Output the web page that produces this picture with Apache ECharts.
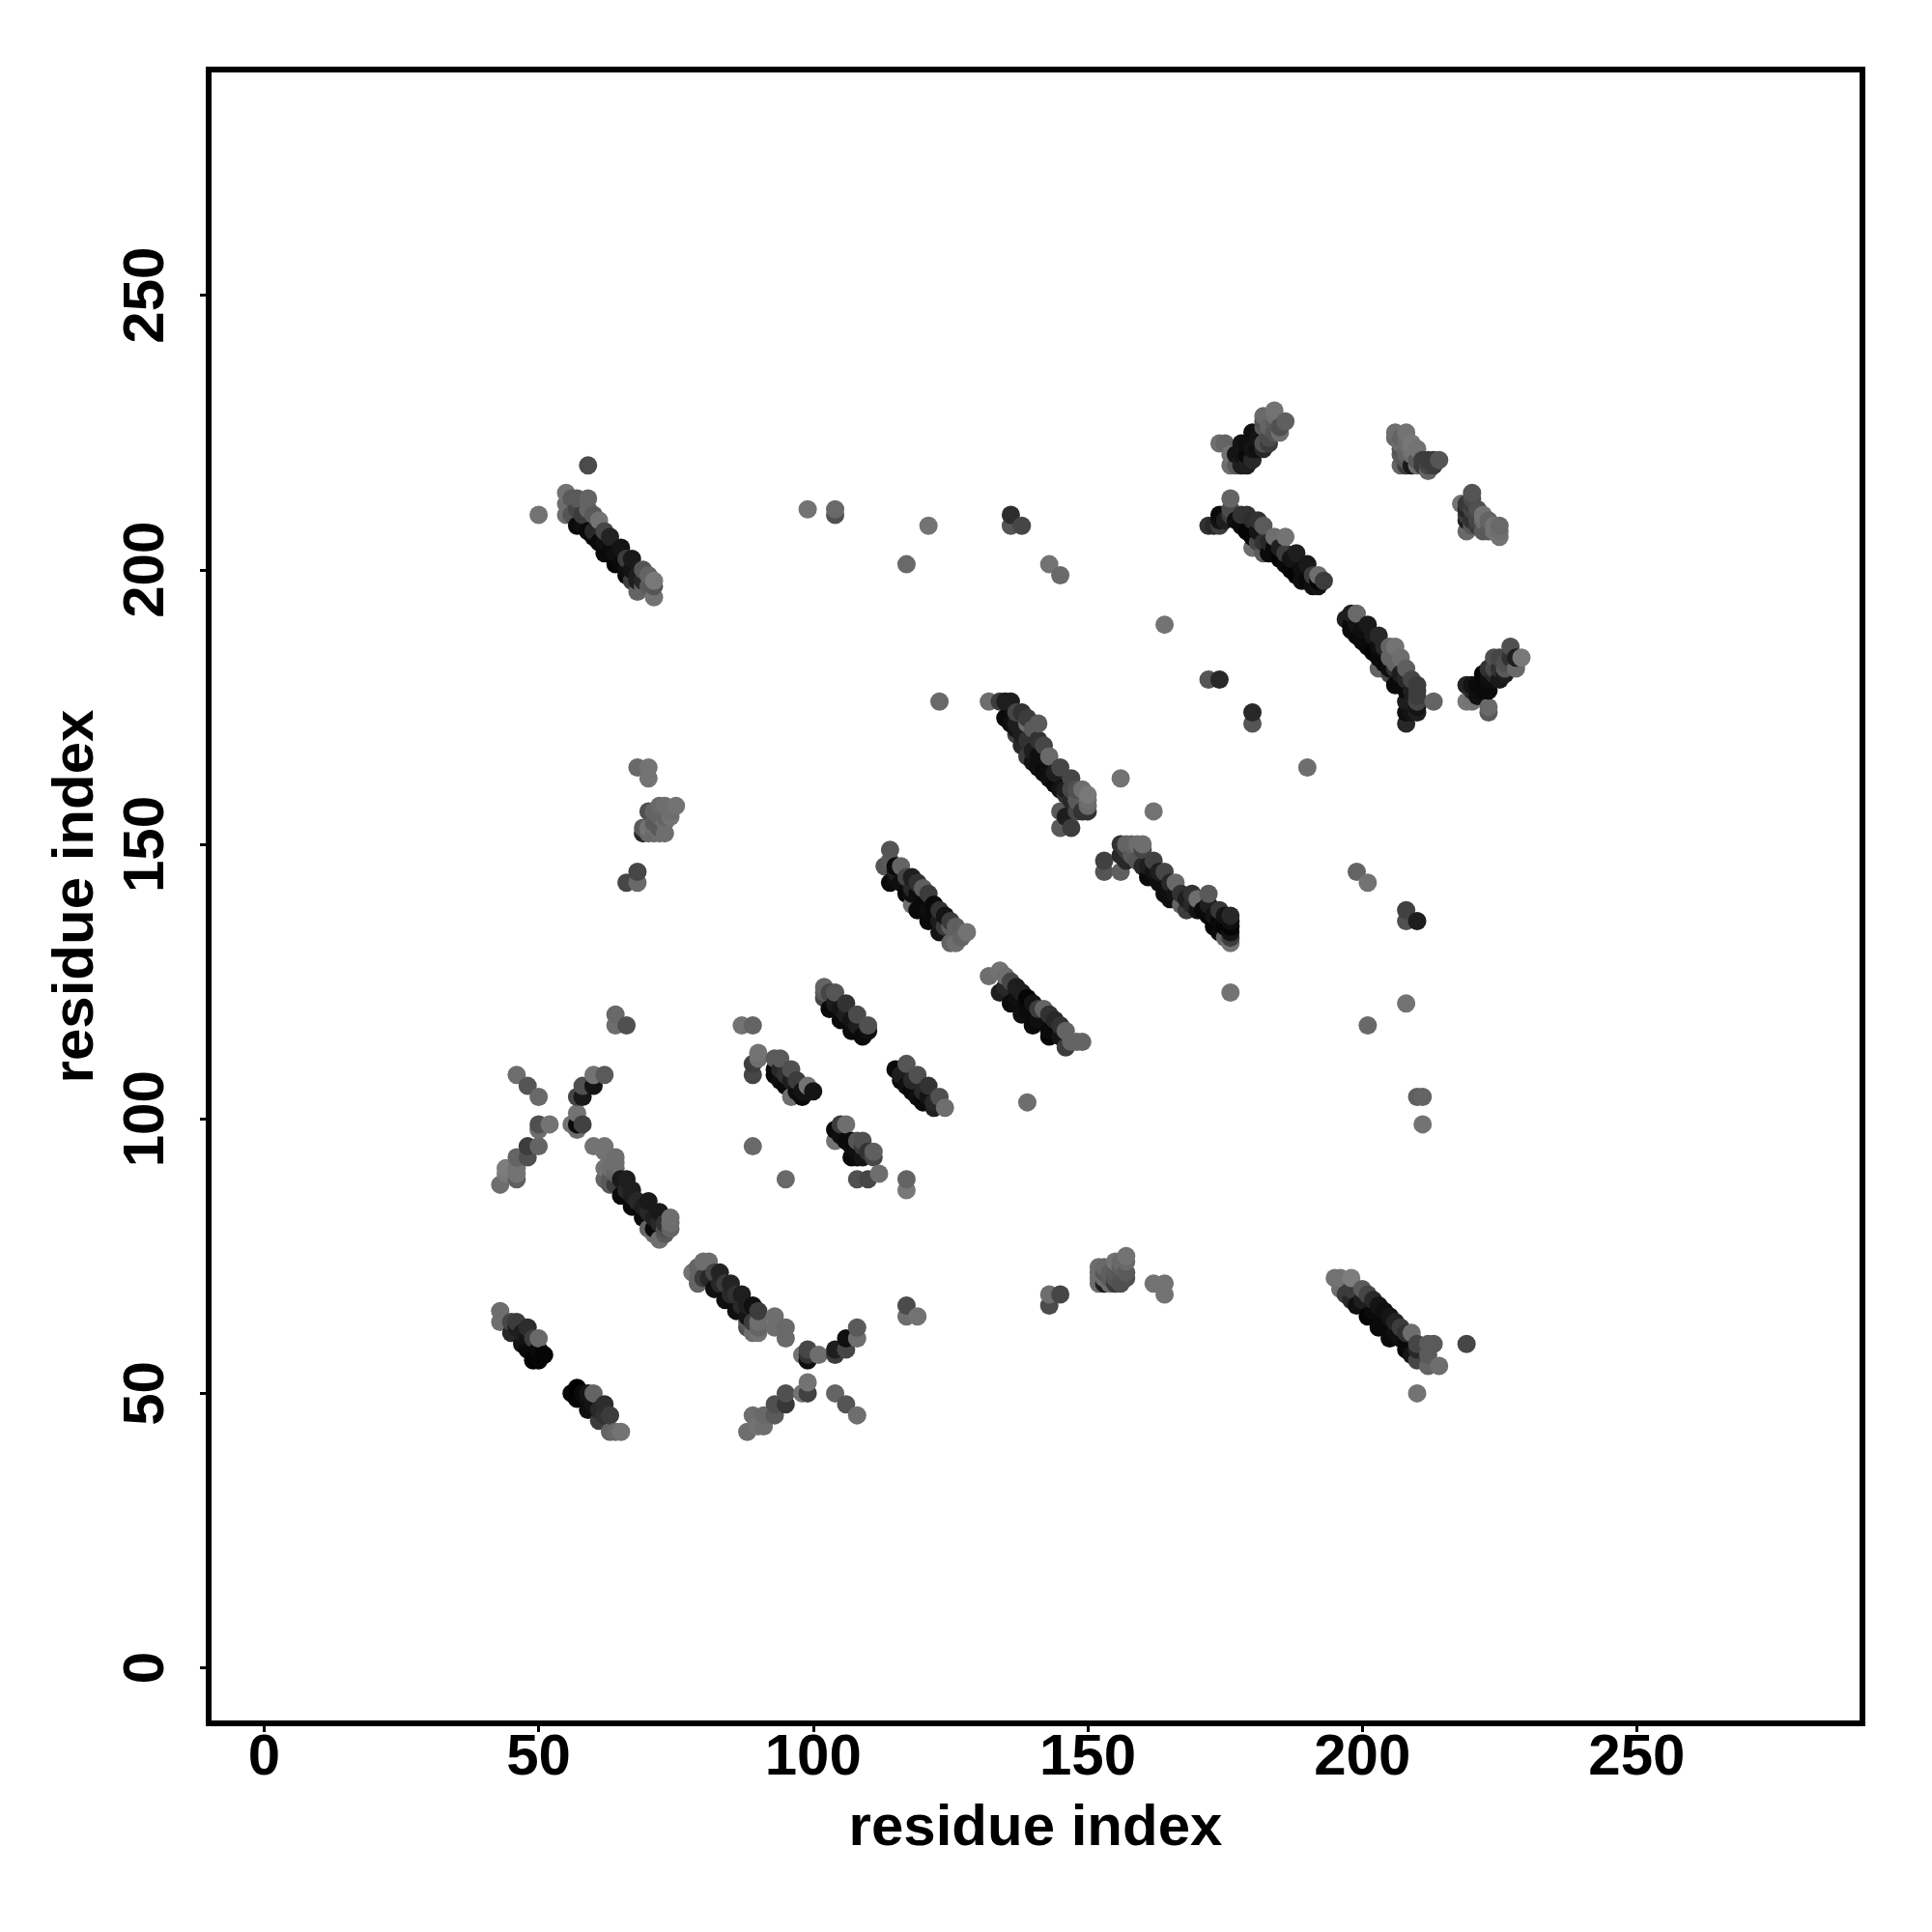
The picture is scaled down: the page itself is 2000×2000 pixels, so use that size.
<!DOCTYPE html>
<html><head><meta charset="utf-8"><style>html,body{margin:0;background:#fff}#c{width:2000px;height:2000px}</style>
<script src="https://cdn.jsdelivr.net/npm/echarts@6/dist/echarts.min.js"></script></head><body><div id="c"></div><script>
const tickValues=[0,50,100,150,200,250];
const axisTitle="residue index";
// each point: [residue x, residue y, grey level]
const clusterA=[[43,65,110],[43,63,110],[45,63,70],[45,61,40],[46,63,60],[47,59,20],[48,58,10],[48,62,45],[49,56,5],[49,60,60],[50,56,5],[50,58,10],[50,60,105],[51,57,5],[46,62,30],[47,61,30],[48,60,20],[49,59,10]];
const clusterE=[[56,50,10],[57,49,5],[57,51,0],[59,47,15],[59,50,20],[60,50,100],[61,45,60],[62,48,45],[63,43,100],[63,46,60],[64,43,105],[65,43,115],[58,50,10],[59,49,15],[60,48,20],[61,47,40],[62,46,50]];
const crossLeft=[[43,88,110],[44,90,120],[44,91,125],[46,89,95],[46,90,115],[46,91,115],[46,93,100],[46,108,110],[48,93,80],[48,95,60],[48,106,85],[50,95,100],[50,98,110],[50,99,80],[50,104,105],[52,99,115]];
const crossRight=[[56,99,115],[57,98,110],[57,99,10],[57,101,115],[57,104,70],[58,99,65],[58,104,25],[58,106,80],[60,106,20],[60,108,115],[62,108,90]];
const strandC=[[60,95,115],[62,89,100],[62,91,115],[62,94,115],[62,95,115],[63,88,90],[63,89,90],[64,93,110],[65,86,10],[65,89,25],[66,87,40],[67,84,10],[67,87,30],[68,85,40],[69,82,10],[70,83,40],[70,85,25],[71,79,110],[71,80,10],[72,78,110],[72,81,40],[72,83,25],[73,79,90],[74,81,110],[74,82,110],[64,90,100],[64,88,60],[66,89,30],[67,86,30],[69,84,30],[71,82,30],[73,81,50],[74,80,100],[73,80,80],[70,80,100],[64,91,105],[63,91,110],[64,92,110]];
const strandD=[[78,72,115],[79,73,100],[80,71,60],[80,74,110],[81,74,110],[82,69,15],[83,70,40],[83,72,35],[84,67,15],[85,68,40],[85,70,35],[86,65,15],[87,66,40],[87,68,30],[88,62,80],[88,64,20],[89,61,110],[89,66,15],[90,61,115],[90,63,110],[93,62,110],[93,64,110],[95,60,105],[95,62,105],[79,71,100],[79,70,100],[81,71,40],[82,72,70],[84,70,60],[86,68,50],[88,66,30],[90,65,60],[89,63,60],[88,63,90],[90,62,100]];
const crossBottom=[[88,43,110],[89,46,110],[90,44,115],[91,44,110],[91,46,105],[93,46,90],[93,48,80],[95,48,55],[95,50,80],[98,50,115],[98,57,115],[99,50,65],[99,52,115],[99,56,15],[99,57,50],[99,58,70],[101,57,110],[104,50,100],[104,57,60],[104,58,30],[106,48,85],[106,58,70],[106,60,15],[108,46,110],[108,60,110],[108,62,90]];
const smallLow=[[64,117,110],[64,119,105],[66,117,80],[87,117,115],[89,117,100],[89,95,105],[95,89,105],[117,89,100],[117,87,120],[117,66,75],[117,64,110],[119,64,115],[139,103,110],[176,123,115],[208,121,115],[201,117,105],[210,104,95],[211,104,100],[211,99,115],[219,59,70],[210,50,115]];
const strandF=[[89,108,70],[89,110,60],[90,111,110],[90,112,115],[93,108,10],[93,109,10],[93,111,90],[94,111,90],[95,106,10],[96,104,110],[96,107,30],[96,109,80],[98,104,10],[98,105,20],[99,105,20],[99,106,115],[100,105,20],[94,107,15],[94,109,40],[95,108,50],[97,105,15],[97,107,60]];
const strandG=[[102,122,70],[102,123,90],[102,124,100],[103,120,10],[103,123,70],[104,123,85],[105,118,10],[106,121,50],[107,116,10],[108,119,75],[109,115,10],[110,116,15],[110,117,80],[104,121,30],[105,120,20],[106,119,30],[107,118,20],[108,117,30]];
const strandH=[[115,109,10],[116,107,10],[117,110,85],[118,105,10],[119,108,80],[120,103,10],[121,106,50],[122,102,30],[123,104,80],[124,102,110],[116,108,30],[117,106,15],[118,107,40],[119,104,15],[120,105,40],[121,104,20],[122,103,40]];
const strandI=[[104,96,115],[104,98,10],[105,99,60],[106,96,10],[106,99,110],[107,93,10],[107,96,10],[108,89,80],[108,93,10],[108,96,85],[109,96,80],[110,89,70],[111,93,70],[111,94,95],[112,90,110],[105,97,15],[107,95,15],[108,94,15],[109,93,20],[109,95,60],[110,94,50]];
const strandJ=[[132,126,110],[134,123,30],[134,127,115],[135,126,110],[136,121,10],[137,124,30],[138,119,15],[139,122,5],[140,117,10],[142,120,100],[143,115,5],[144,118,40],[146,113,60],[146,116,100],[147,114,100],[148,114,100],[149,114,100],[135,124,40],[137,122,15],[139,120,10],[141,118,15],[143,116,10],[145,115,20],[136,125,70],[138,123,30],[140,121,20],[141,120,60],[143,119,50],[145,117,50]];
const midCluster=[[143,66,75],[143,68,110],[145,68,70],[152,70,110],[152,71,110],[152,73,110],[153,70,30],[153,72,85],[154,70,110],[155,72,90],[155,74,115],[156,70,80],[157,72,90],[157,74,105],[157,75,115],[162,70,115],[164,68,115],[164,70,115],[153,71,110],[154,72,95],[154,71,90],[155,71,85],[155,70,60],[156,72,85],[156,73,95],[157,71,80],[156,74,105],[152,72,110],[153,73,105]];
const strandK=[[195,71,115],[196,69,110],[196,71,115],[198,69,60],[198,71,125],[199,66,15],[200,69,90],[201,64,5],[202,67,40],[203,62,10],[204,65,15],[205,60,10],[206,63,35],[207,62,60],[208,58,5],[209,61,110],[210,56,70],[210,59,70],[212,55,100],[212,57,90],[212,59,90],[213,59,90],[214,55,110],[197,68,60],[198,67,40],[200,67,30],[201,68,70],[202,65,10],[203,66,20],[204,63,10],[205,64,20],[206,61,15],[207,60,15],[208,59,10],[208,61,50],[209,57,20],[210,58,40]];
const strandL=[[50,210,115],[55,212,110],[55,214,115],[56,210,85],[56,213,90],[57,208,10],[57,213,90],[59,211,100],[59,213,100],[59,219,75],[60,206,10],[61,209,115],[62,203,10],[62,207,70],[63,206,35],[64,201,5],[65,204,20],[66,199,10],[66,202,60],[67,202,25],[68,196,100],[69,200,85],[70,197,90],[71,195,115],[71,197,85],[71,198,120],[58,208,15],[59,207,10],[60,207,40],[61,205,10],[62,205,15],[63,203,10],[64,203,15],[65,201,10],[66,200,15],[67,200,20],[68,198,30],[69,198,40],[67,198,60],[68,199,30],[70,199,100],[69,197,100],[58,210,60],[57,211,70],[55,210,110],[60,210,90]];
const smallHigh=[[99,211,115],[104,210,80],[104,211,105],[121,208,115],[117,201,105],[123,176,105],[136,208,85],[136,210,45],[138,208,70],[143,201,115],[145,199,105],[164,190,115],[172,180,85],[174,180,40],[180,172,85],[180,174,40],[190,164,110],[156,162,115],[162,156,115],[199,145,100],[201,143,115],[208,136,80],[208,138,65],[210,136,30]];
const clusterV=[[68,164,105],[70,162,115],[70,164,115],[69,152,40],[70,152,105],[70,153,115],[70,156,80],[72,152,110],[72,153,90],[72,157,105],[73,152,110],[73,157,110],[74,155,115],[75,157,115],[66,143,70],[68,143,105],[68,145,70],[71,154,90],[71,156,100],[72,155,100],[73,155,100],[73,154,110],[71,152,105],[71,153,110],[74,156,110],[72,156,100],[69,153,90]];
const strandM=[[113,146,85],[114,143,10],[114,147,90],[114,149,85],[115,146,10],[116,146,100],[117,141,10],[117,144,70],[118,139,110],[118,144,30],[119,138,10],[120,142,95],[121,136,10],[122,139,10],[123,134,20],[124,137,20],[125,132,100],[125,135,95],[126,132,110],[126,135,95],[128,134,115],[115,144,15],[116,143,15],[118,141,15],[119,141,15],[120,139,10],[121,138,15],[122,137,10],[123,136,30],[124,135,60],[115,145,30],[119,143,50],[121,141,60],[123,138,50],[125,136,60],[118,142,40],[127,133,100]];
const strandN=[[132,176,110],[134,176,60],[135,173,10],[135,176,30],[136,176,30],[137,170,65],[137,174,70],[139,166,60],[139,172,110],[141,164,15],[141,169,50],[141,172,90],[143,166,105],[144,161,10],[145,153,90],[145,156,90],[145,164,70],[146,155,30],[147,153,60],[147,162,70],[148,156,70],[148,158,90],[150,156,50],[150,157,105],[150,159,120],[136,172,15],[137,171,20],[138,170,30],[138,168,40],[139,169,50],[140,167,30],[140,165,20],[141,166,15],[142,163,10],[143,164,15],[143,162,15],[145,160,20],[146,160,30],[146,159,50],[147,158,40],[148,160,80],[147,160,70],[149,156,50],[144,163,30],[142,168,70],[138,174,50],[139,173,60],[137,172,30],[140,171,90],[149,160,110],[150,158,110]];
const strandO=[[153,145,85],[153,147,65],[156,145,95],[156,148,40],[156,150,50],[158,148,90],[158,150,100],[159,147,85],[159,150,110],[161,144,10],[162,147,65],[164,141,15],[164,145,70],[165,140,15],[166,143,105],[167,139,100],[169,141,50],[170,140,110],[171,138,10],[172,141,90],[173,135,5],[174,138,55],[175,133,100],[176,132,115],[176,135,5],[176,136,15],[157,149,60],[157,147,40],[160,149,70],[160,146,40],[161,146,30],[162,145,20],[163,143,15],[163,145,30],[165,143,40],[166,141,20],[167,141,50],[168,140,30],[168,138,60],[169,139,40],[170,138,20],[172,137,10],[172,139,30],[173,137,20],[174,136,10],[175,135,5],[174,134,10],[176,137,40],[175,137,20],[176,134,20],[176,133,60],[160,150,110],[157,150,100]];
const strandP=[[172,208,50],[174,208,60],[174,210,10],[176,210,60],[176,211,75],[176,213,100],[179,207,5],[179,210,50],[180,209,45],[181,205,70],[182,203,90],[182,208,90],[184,206,110],[185,202,5],[186,206,115],[187,200,5],[188,203,30],[189,198,15],[190,201,25],[191,197,15],[192,198,5],[192,199,110],[177,209,15],[178,208,10],[180,206,5],[181,207,20],[183,205,40],[184,204,10],[183,203,10],[182,205,50],[185,204,30],[186,201,10],[186,203,60],[187,202,20],[188,199,5],[189,200,15],[190,198,10],[191,199,60],[192,197,20],[193,198,60],[178,210,50],[181,209,50],[180,204,110],[175,209,30],[174,209,20],[173,208,40]];
const strandQ=[[197,191,30],[198,189,10],[198,192,30],[199,192,105],[200,187,10],[201,190,25],[202,185,5],[203,182,100],[203,188,40],[205,181,70],[205,184,100],[206,179,10],[206,186,115],[208,172,40],[208,174,15],[208,182,95],[209,180,70],[210,174,30],[210,176,70],[210,179,60],[213,176,100],[198,190,10],[199,188,10],[199,190,20],[200,189,15],[201,186,10],[202,188,25],[203,184,10],[204,186,40],[203,186,15],[204,183,10],[205,182,15],[205,186,100],[206,182,50],[206,183,100],[207,180,10],[207,181,30],[208,178,10],[208,180,40],[209,178,30],[209,176,30],[210,175,20],[209,174,20],[207,184,110],[208,176,30],[210,177,60],[210,178,60]];
const strandR=[[219,176,120],[219,179,35],[220,176,115],[220,178,40],[222,181,5],[223,174,90],[223,175,105],[223,178,10],[224,184,80],[225,180,25],[225,184,70],[226,181,30],[227,186,80],[228,182,105],[229,184,120],[220,179,20],[221,179,10],[221,177,15],[222,178,10],[222,180,10],[223,180,15],[223,182,50],[224,181,40],[224,182,70],[225,182,50],[226,183,80],[226,182,90],[227,184,50],[228,184,30]];
const strandS=[[174,223,110],[175,223,100],[176,219,110],[176,221,115],[178,223,20],[179,219,30],[179,221,10],[180,225,15],[181,222,15],[182,223,80],[182,226,90],[182,228,105],[183,224,75],[184,225,85],[184,229,115],[186,227,95],[177,221,20],[177,219,90],[178,220,30],[178,219,30],[178,221,20],[179,223,15],[180,222,20],[180,220,40],[181,224,20],[182,222,40],[183,223,60],[183,226,100],[182,227,80],[184,227,90],[185,226,80],[185,225,110],[184,228,110]];
const strandT=[[206,225,110],[207,219,100],[207,222,85],[208,225,115],[209,219,25],[209,221,110],[209,223,120],[210,219,110],[211,220,60],[212,218,100],[212,220,60],[214,220,85],[206,224,105],[207,224,100],[207,223,110],[208,221,100],[208,220,90],[208,219,60],[208,223,110],[209,222,115],[210,222,115],[210,220,90],[211,219,60],[212,219,70],[213,220,60],[213,219,60],[207,221,90]];
const strandU=[[218,212,115],[219,207,105],[219,209,30],[219,212,55],[220,213,75],[220,214,85],[221,211,80],[222,207,90],[222,210,115],[224,207,115],[225,206,115],[225,208,105],[220,212,60],[219,211,40],[219,210,60],[220,209,50],[220,208,90],[221,208,60],[221,209,70],[222,209,110],[223,209,100],[223,207,90],[224,208,115],[225,207,110],[220,211,70]];
const clusters=[clusterA,clusterE,crossLeft,crossRight,strandC,strandD,crossBottom,smallLow,strandF,strandG,strandH,strandI,strandJ,midCluster,strandK,strandL,smallHigh,clusterV,strandM,strandN,strandO,strandP,strandQ,strandR,strandS,strandT,strandU];
const points=clusters.flat().sort((a,b)=>a[0]-b[0]||a[1]-b[1]);
const font='"Liberation Sans", Arial, sans-serif';
const chart=echarts.init(document.getElementById('c'),null,{renderer:'canvas'});
const axis=(extra)=>Object.assign({type:'value',min:-10.1,max:291.1,splitLine:{show:false},
  axisLine:{show:false,onZero:false},
  axisTick:{show:true,length:9,lineStyle:{color:'#000',width:3},customValues:tickValues},
  name:axisTitle,nameLocation:'middle',
  nameTextStyle:{fontFamily:font,fontWeight:'bold',fontSize:60,color:'#000'}},extra);
chart.setOption({animation:false,backgroundColor:'#fff',
 grid:{left:216,top:72,width:1712,height:1712,show:true,borderColor:'#000',borderWidth:6,backgroundColor:'transparent'},
 xAxis:axis({nameGap:79,axisLabel:{customValues:tickValues,margin:6,fontFamily:font,fontWeight:'bold',fontSize:60,color:'#000'}}),
 yAxis:axis({nameGap:107,axisLabel:{customValues:tickValues,rotate:90,margin:34,fontFamily:font,fontWeight:'bold',fontSize:60,color:'#000',align:'center'}}),
 series:[{type:'scatter',data:points,symbol:'circle',symbolSize:19,silent:true,clip:false,
   itemStyle:{opacity:1,color:p=>{const g=p.value[2];return `rgb(${g},${g},${g})`}}}]});
</script></body></html>
